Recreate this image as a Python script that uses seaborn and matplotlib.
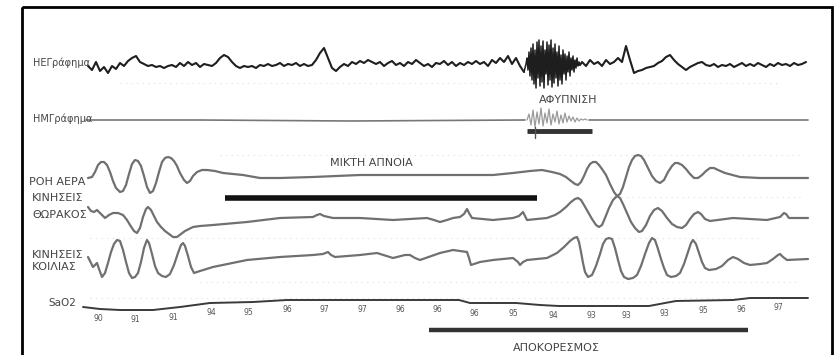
import numpy as np
import matplotlib.pyplot as plt
import seaborn as sns
from matplotlib.patches import Rectangle

# polysomnography trace: mixed apnea -> arousal -> desaturation
# x = horizontal time position on the paper trace, y = pen position (px, down = larger)

# EEG (ΗΕΓράφημα): three sampled segments, the arousal burst is sampled denser
eeg_t_pre = np.arange(88, 525, 4)
eeg_pre = [66, 70, 62, 71, 67, 73, 66, 69, 63, 66,
           61, 58, 56, 62, 64, 66, 65, 67, 66, 68,
           66, 65, 67, 63, 66, 62, 65, 63, 67, 64,
           65, 66, 63, 58, 55, 57, 62, 66, 68, 66,
           67, 66, 68, 65, 66, 64, 66, 65, 63, 66,
           64, 65, 63, 66, 64, 66, 65, 60, 53, 48,
           58, 68, 71, 67, 64, 66, 62, 64, 61, 63,
           60, 62, 64, 62, 66, 63, 61, 65, 63, 66,
           62, 64, 60, 63, 66, 64, 67, 63, 64, 61,
           65, 62, 66, 63, 65, 62, 64, 61, 64, 62,
           66, 60, 63, 58, 62, 56, 64, 58, 66, 72]
eeg_t_burst = np.arange(526, 581, 1.0)
eeg_burst = [64, 58, 70, 52, 76, 48, 80, 44, 84, 50,
             88, 42, 78, 40, 86, 46, 82, 41, 88, 50,
             74, 42, 85, 45, 80, 40, 87, 48, 83, 44,
             78, 52, 86, 46, 80, 55, 84, 50, 74, 54,
             80, 56, 72, 52, 76, 58, 70, 56, 72, 60,
             68, 58, 66, 62, 65]
eeg_t_post = np.arange(582, 807, 4)
eeg_post = [62, 66, 60, 64, 62, 66, 60, 64, 62, 58,
            62, 46, 60, 73, 71, 70, 68, 67, 66, 63,
            61, 57, 55, 60, 64, 67, 70, 67, 65, 63,
            62, 65, 66, 64, 67, 65, 66, 64, 67, 65,
            63, 66, 64, 66, 63, 65, 67, 64, 66, 63,
            65, 64, 66, 63, 65, 64, 62]

# EMG (ΗΜΓράφημα): flat with a burst during the arousal
emg_t_burst = np.arange(527, 588, 2)
emg_burst = [120, 114, 125, 110, 127, 112, 124, 108, 126, 113,
             123, 109, 125, 114, 122, 111, 124, 115, 123, 113,
             122, 116, 121, 117, 122, 118, 121, 119, 120, 119, 120]
emg_t_flat_a = [86, 200, 350, 525]
emg_flat_a = [120, 120, 121, 120]
emg_t_flat_b = [589, 700, 808]
emg_flat_b = [120, 120, 120]

# airflow (ΡΟΗ ΑΕΡΑ)
flow_t = [88, 92, 95, 98, 101, 104, 107, 110, 113, 116, 120, 123, 126, 129,
          132, 135, 138, 141, 144, 147, 150, 153, 156, 159, 162, 165, 168, 171,
          174, 177, 180, 184, 187, 190, 193, 197, 202, 207, 215, 223, 243, 260,
          280, 313, 360, 420, 493, 513, 530, 542, 552, 560, 566, 571, 575, 578,
          581, 584, 587, 590, 593, 596, 599, 602, 606, 610, 614, 617, 620, 623,
          626, 629, 632, 635, 638, 641, 644, 648, 652, 656, 660, 664, 668, 672,
          675, 678, 682, 686, 690, 694, 698, 702, 706, 710, 714, 718, 725, 740,
          760, 808]
flow_y = [178, 177, 172, 165, 162, 162, 165, 172, 181, 188, 192, 191, 185, 174,
          164, 160, 161, 166, 176, 187, 193, 191, 183, 172, 162, 158, 157, 158,
          161, 166, 173, 180, 183, 181, 176, 172, 170, 170, 171, 173, 175, 178,
          178, 177, 175, 175, 175, 173, 171, 170, 172, 174, 177, 181, 184, 185,
          182, 176, 169, 164, 162, 162, 165, 169, 175, 184, 192, 196, 194, 187,
          177, 167, 160, 156, 155, 156, 160, 168, 176, 181, 183, 180, 172, 166,
          163, 163, 165, 169, 174, 178, 178, 175, 171, 168, 168, 170, 173, 177,
          178, 178]

# thoracic movement (ΚΙΝΗΣΕΙΣ ΘΩΡΑΚΟΣ)
thor_t = [88, 91, 94, 97, 101, 105, 109, 113, 118, 123, 127, 130, 134, 137,
          140, 143, 146, 148, 151, 154, 157, 161, 165, 169, 173, 177, 181, 185,
          193, 200, 213, 247, 280, 313, 317, 320, 324, 333, 360, 393, 427, 434,
          440, 447, 453, 460, 464, 467, 469, 472, 493, 513, 519, 523, 525, 527,
          547, 555, 560, 566, 571, 575, 578, 581, 584, 588, 592, 596, 599, 602,
          605, 609, 613, 617, 620, 623, 627, 631, 635, 639, 642, 646, 650, 654,
          658, 662, 667, 672, 677, 682, 686, 690, 694, 698, 701, 705, 710, 733,
          767, 780, 784, 786, 789, 808]
thor_y = [207, 211, 212, 210, 214, 218, 215, 213, 213, 215, 220, 225, 231, 233,
          228, 217, 209, 207, 210, 216, 222, 227, 231, 234, 237, 237, 234, 231,
          227, 226, 225, 222, 218, 217, 215, 214, 216, 218, 218, 220, 218, 220,
          222, 220, 218, 217, 214, 209, 213, 218, 220, 218, 216, 212, 216, 220,
          218, 215, 212, 207, 202, 199, 198, 200, 205, 212, 219, 225, 227, 225,
          218, 208, 200, 196, 198, 204, 213, 222, 228, 232, 231, 225, 216, 210,
          208, 211, 218, 224, 227, 228, 225, 219, 214, 212, 214, 219, 221, 218,
          220, 217, 213, 214, 218, 218]

# abdominal movement (ΚΙΝΗΣΕΙΣ ΚΟΙΛΙΑΣ)
abd_t = [88, 91, 93, 95, 97, 99, 102, 105, 108, 111, 114, 117, 120, 123,
         126, 129, 132, 135, 138, 141, 144, 147, 149, 152, 155, 158, 162, 166,
         170, 174, 178, 181, 183, 185, 188, 191, 194, 200, 213, 247, 280, 313,
         323, 328, 331, 335, 360, 377, 393, 405, 410, 415, 420, 440, 453, 460,
         467, 469, 471, 480, 493, 513, 518, 520, 523, 527, 547, 557, 564, 570,
         574, 577, 579, 581, 583, 585, 588, 592, 596, 600, 603, 606, 609, 612,
         615, 618, 621, 624, 628, 633, 637, 641, 645, 649, 652, 655, 658, 661,
         664, 667, 671, 676, 680, 684, 688, 691, 693, 696, 699, 702, 705, 709,
         716, 722, 728, 733, 738, 744, 750, 760, 767, 773, 778, 780, 783, 787,
         808]
abd_y = [257, 263, 267, 265, 263, 269, 277, 273, 263, 252, 244, 240, 241, 250,
         262, 273, 278, 277, 273, 262, 248, 240, 243, 254, 266, 273, 276, 277,
         274, 265, 253, 245, 243, 246, 256, 267, 273, 271, 267, 260, 257, 255,
         254, 252, 255, 257, 255, 253, 258, 255, 255, 258, 260, 253, 250, 251,
         252, 258, 265, 262, 260, 258, 262, 265, 262, 260, 258, 253, 247, 241,
         238, 237, 242, 252, 263, 272, 277, 275, 266, 254, 244, 239, 238, 239,
         248, 260, 271, 277, 279, 278, 275, 266, 254, 243, 238, 240, 249, 259,
         268, 275, 277, 276, 273, 264, 252, 243, 240, 244, 253, 262, 268, 270,
         269, 266, 260, 257, 259, 263, 265, 264, 263, 259, 255, 254, 257, 260,
         259]

# oxygen saturation (SaO2)
sao2_t = [83, 100, 120, 153, 180, 210, 253, 287, 330, 380, 437, 459, 470, 516,
          540, 559, 600, 649, 665, 676, 733, 750, 808]
sao2_y = [307, 309, 310, 310, 307, 303, 302, 300, 300, 300, 300, 300, 303, 303,
          305, 306, 306, 306, 303, 301, 300, 298, 298]
sao2_read_t = [98, 135, 173, 211, 248, 287, 324, 362, 400, 437, 474, 513, 553,
               591, 626, 664, 703, 741, 778]
sao2_read = [90, 91, 91, 94, 95, 96, 97, 97, 96, 96, 96, 95, 94, 93, 93, 93,
             95, 96, 97]

# event markers (start, end)
apnea_span = (225, 537)
arousal_span = (527, 592)
desat_span = (429, 748)

sns.set_style("white")
plt.rcParams['font.family'] = ['DejaVu Sans']

fig = plt.figure(figsize=(8.36, 3.55), dpi=100)
ax = fig.add_axes([0, 0, 1, 1])
ax.set_xlim(0, 836)
ax.set_ylim(355, 0)
ax.axis('off')

# faint dotted grid rows of the paper
for gy, gx0, gx1 in [(83, 120, 780), (155, 220, 800), (197, 610, 800),
                     (238, 90, 760), (282, 200, 800), (298, 90, 800)]:
    ax.plot([gx0, gx1], [gy, gy], color='#dddddd', lw=0.8,
            linestyle=(0, (1, 4)), zorder=0)

grey = '#707070'
kw = dict(ax=ax, sort=False, estimator=None, legend=False,
          solid_joinstyle='round')

# EEG
eeg_color = '#1e1e1e'
sns.lineplot(x=eeg_t_pre, y=eeg_pre, color=eeg_color, linewidth=1.5, **kw)
sns.lineplot(x=np.r_[eeg_t_pre[-1], eeg_t_burst], y=[eeg_pre[-1]] + eeg_burst,
             color=eeg_color, linewidth=1.1, **kw)
sns.lineplot(x=np.r_[eeg_t_burst[-1], eeg_t_post], y=[eeg_burst[-1]] + eeg_post,
             color=eeg_color, linewidth=1.5, **kw)

# EMG
sns.lineplot(x=emg_t_flat_a, y=emg_flat_a, color='#777777', linewidth=1.2, **kw)
sns.lineplot(x=emg_t_burst, y=emg_burst, color='#9a9a9a', linewidth=0.9, **kw)
sns.lineplot(x=emg_t_flat_b, y=emg_flat_b, color='#777777', linewidth=1.2, **kw)

# respiratory channels
sns.lineplot(x=flow_t, y=flow_y, color=grey, linewidth=1.6, **kw)
sns.lineplot(x=thor_t, y=thor_y, color=grey, linewidth=1.6, **kw)
sns.lineplot(x=abd_t, y=abd_y, color=grey, linewidth=1.6, **kw)

# SaO2
sns.lineplot(x=sao2_t, y=sao2_y, color='#3a3a3a', linewidth=1.4, **kw)
for tx, val in zip(sao2_read_t, sao2_read):
    ty = np.interp(tx, sao2_t, sao2_y)
    ax.text(tx, ty + 10, str(val), fontsize=5.5, color='#555555',
            ha='center', va='center')

# event bars
ax.plot(apnea_span, [198, 198], color='#111111', lw=4, solid_capstyle='butt')
ax.plot(arousal_span, [131, 131], color='#333333', lw=3.5, solid_capstyle='butt')
ax.plot([535, 535], [127, 138], color='#555555', lw=1)
ax.plot(desat_span, [330, 330], color='#333333', lw=3.2, solid_capstyle='butt')

# labels
lab = dict(fontsize=8, color='#444444', va='center', ha='left')
ax.text(33, 63, 'ΗΕΓράφημα', **dict(lab, fontsize=7))
ax.text(33, 119, 'ΗΜΓράφημα', **dict(lab, fontsize=7))
ax.text(29, 182, 'ΡΟΗ ΑΕΡΑ', **lab)
ax.text(32, 198, 'ΚΙΝΗΣΕΙΣ', **lab)
ax.text(32, 215, 'ΘΩΡΑΚΟΣ', **lab)
ax.text(32, 255, 'ΚΙΝΗΣΕΙΣ', **lab)
ax.text(32, 267, 'ΚΟΙΛΙΑΣ', **lab)
ax.text(48, 303, 'SaO2', **dict(lab, fontsize=7.5))
ev = dict(lab, ha='center')
ax.text(568, 100, 'ΑΦΥΠΝΙΣΗ', **ev)
ax.text(371, 163, 'ΜΙΚΤΗ ΑΠΝΟΙΑ', **ev)
ax.text(556, 348, 'ΑΠΟΚΟΡΕΣΜΟΣ', **ev)

# frame
ax.add_patch(Rectangle((22, 7), 810, 360, fill=False, edgecolor='black',
                       lw=2, zorder=5))

fig.savefig('out.png', dpi=100)
